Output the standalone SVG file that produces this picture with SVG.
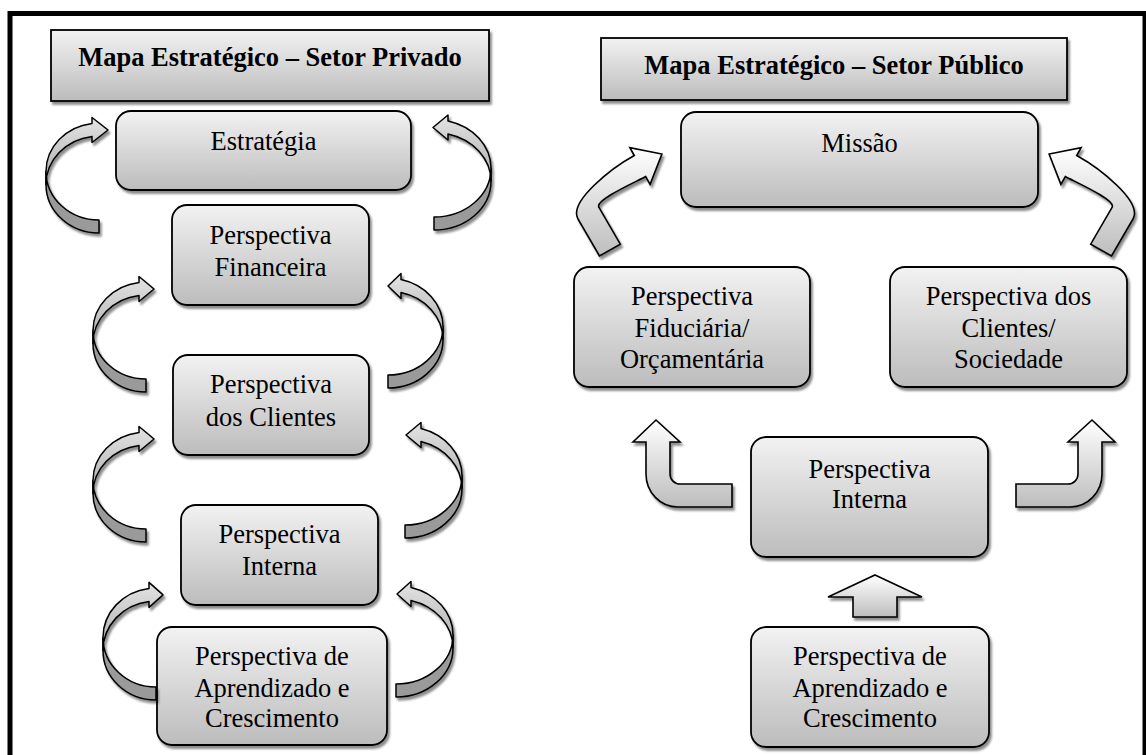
<svg xmlns="http://www.w3.org/2000/svg" width="1146" height="755" viewBox="0 0 1146 755">
<defs>
<linearGradient id="gBox" x1="0" y1="0" x2="0" y2="1"><stop offset="0" stop-color="#f2f2f2"/><stop offset="1" stop-color="#bcbcbc"/></linearGradient>
<linearGradient id="gArr" x1="0" y1="0" x2="0" y2="1"><stop offset="0" stop-color="#ffffff"/><stop offset="1" stop-color="#bdbdbd"/></linearGradient>
<linearGradient id="gFront" x1="0" y1="0" x2="0" y2="1"><stop offset="0" stop-color="#e4e4e4"/><stop offset="1" stop-color="#acacac"/></linearGradient>
<filter id="sh" x="-15%" y="-15%" width="140%" height="140%">
<feGaussianBlur in="SourceAlpha" stdDeviation="1"/>
<feOffset dx="2" dy="3"/>
<feComponentTransfer><feFuncA type="linear" slope="0.45"/></feComponentTransfer>
<feMerge><feMergeNode/><feMergeNode in="SourceGraphic"/></feMerge>
</filter>
</defs>
<style>
.box{fill:url(#gBox);stroke:#000;stroke-width:1.8}
.t{font-family:"Liberation Serif","Times New Roman",serif;font-size:26.5px;text-anchor:middle;fill:#000}
.tb{font-weight:bold}
.back{fill:#9a9a9a;stroke:#000;stroke-width:1.5;stroke-linejoin:round}
.front{fill:url(#gFront);stroke:#000;stroke-width:1.5;stroke-linejoin:round}
.blk{fill:url(#gArr);stroke:#000;stroke-width:1.6;stroke-linejoin:miter}
</style>
<rect x="10" y="13.5" width="1135" height="800" fill="none" stroke="#000" stroke-width="5"/>

<g id="title-privado">
<rect class="box" x="51" y="30" width="438" height="71" filter="url(#sh)"/>
<text class="t tb" x="270" y="66">Mapa Estratégico – Setor Privado</text>
</g>
<g id="title-publico">
<rect class="box" x="601" y="38" width="466" height="62" filter="url(#sh)"/>
<text class="t tb" x="834" y="74">Mapa Estratégico – Setor Público</text>
</g>

<g id="priv-estrategia">
<rect class="box" x="116" y="111" width="295" height="79" rx="15" filter="url(#sh)"/>
<text class="t" x="263.5" y="150">Estratégia</text>
</g>
<g id="priv-financeira">
<rect class="box" x="172" y="205" width="197" height="100" rx="15" filter="url(#sh)"/>
<text class="t" x="270.5" y="244">Perspectiva</text>
<text class="t" x="270.5" y="276">Financeira</text>
</g>
<g id="priv-clientes">
<rect class="box" x="173" y="355" width="196" height="100" rx="15" filter="url(#sh)"/>
<text class="t" x="271" y="393">Perspectiva</text>
<text class="t" x="271" y="426">dos Clientes</text>
</g>
<g id="priv-interna">
<rect class="box" x="181" y="505" width="197" height="100" rx="15" filter="url(#sh)"/>
<text class="t" x="279.5" y="543">Perspectiva</text>
<text class="t" x="279.5" y="575">Interna</text>
</g>
<g id="priv-aprendizado">
<rect class="box" x="157" y="627" width="230" height="118" rx="15" filter="url(#sh)"/>
<text class="t" x="272" y="665">Perspectiva de</text>
<text class="t" x="272" y="697">Aprendizado e</text>
<text class="t" x="272" y="727">Crescimento</text>
</g>

<g id="pub-missao">
<rect class="box" x="681" y="112" width="357" height="95" rx="15" filter="url(#sh)"/>
<text class="t" x="859.5" y="152">Missão</text>
</g>
<g id="pub-fiduciaria">
<rect class="box" x="574" y="267" width="236" height="120" rx="15" filter="url(#sh)"/>
<text class="t" x="692" y="305">Perspectiva</text>
<text class="t" x="692" y="337">Fiduciária/</text>
<text class="t" x="692" y="368">Orçamentária</text>
</g>
<g id="pub-sociedade">
<rect class="box" x="890" y="267" width="237" height="120" rx="15" filter="url(#sh)"/>
<text class="t" x="1008.5" y="305">Perspectiva dos</text>
<text class="t" x="1008.5" y="337">Clientes/</text>
<text class="t" x="1008.5" y="368">Sociedade</text>
</g>
<g id="pub-interna">
<rect class="box" x="751" y="437" width="237" height="120" rx="15" filter="url(#sh)"/>
<text class="t" x="869.5" y="478">Perspectiva</text>
<text class="t" x="869.5" y="508">Interna</text>
</g>
<g id="pub-aprendizado">
<rect class="box" x="751" y="627" width="238" height="120" rx="15" filter="url(#sh)"/>
<text class="t" x="870" y="665">Perspectiva de</text>
<text class="t" x="870" y="697">Aprendizado e</text>
<text class="t" x="870" y="727">Crescimento</text>
</g>

<g id="connectors">
<!-- private, left side curved arrows -->
<g filter="url(#sh)">
<path class="back" d="M 99,233 A 53 48.5 0 0 1 46,184.5 L 46,171.5 A 53 48.5 0 0 0 99,220 Z"/>
<path class="front" d="M 46,184.5 A 53 48.5 0 0 1 92,136.5 L 92,142.5 L 108,130 L 92,117.5 L 92,123.5 A 53 48.5 0 0 0 46,171.5 Z"/>
</g>
<g filter="url(#sh)">
<path class="back" d="M 146,392 A 53 48.5 0 0 1 93,343.5 L 93,330.5 A 53 48.5 0 0 0 146,379 Z"/>
<path class="front" d="M 93,343.5 A 53 48.5 0 0 1 139,295.5 L 139,301.5 L 154,289 L 139,276.5 L 139,282.5 A 53 48.5 0 0 0 93,330.5 Z"/>
</g>
<g filter="url(#sh)">
<path class="back" d="M 146,542 A 53 48.5 0 0 1 93,493.5 L 93,480.5 A 53 48.5 0 0 0 146,529 Z"/>
<path class="front" d="M 93,493.5 A 53 48.5 0 0 1 139,445.5 L 139,451.5 L 154,439 L 139,426.5 L 139,432.5 A 53 48.5 0 0 0 93,480.5 Z"/>
</g>
<g filter="url(#sh)">
<path class="back" d="M 156,700 A 53 49.5 0 0 1 103,650.5 L 103,637.5 A 53 49.5 0 0 0 156,687 Z"/>
<path class="front" d="M 103,650.5 A 53 49.5 0 0 1 149,601.4 L 149,607.4 L 163,594.9 L 149,582.4 L 149,588.4 A 53 49.5 0 0 0 103,637.5 Z"/>
</g>
<!-- private, right side curved arrows (mirrored) -->
<g filter="url(#sh)"><g transform="matrix(-1 0 0 1 868 0)">
<path class="back" d="M 434,230 A 57 48.75 0 0 1 377,181.25 L 377,168.25 A 57 48.75 0 0 0 434,217 Z"/>
<path class="front" d="M 377,181.25 A 57 48.75 0 0 1 420,134 L 420,140 L 435,127.5 L 420,115 L 420,121 A 57 48.75 0 0 0 377,168.25 Z"/>
</g></g>
<g filter="url(#sh)"><g transform="matrix(-1 0 0 1 776 0)">
<path class="back" d="M 388,388 A 55 48.4 0 0 1 333,339.6 L 333,326.6 A 55 48.4 0 0 0 388,375 Z"/>
<path class="front" d="M 333,339.6 A 55 48.4 0 0 1 375,292.5 L 375,298.5 L 388,286 L 375,273.5 L 375,279.5 A 55 48.4 0 0 0 333,326.6 Z"/>
</g></g>
<g filter="url(#sh)"><g transform="matrix(-1 0 0 1 810 0)">
<path class="back" d="M 405,538 A 57 49.25 0 0 1 348,488.75 L 348,475.75 A 57 49.25 0 0 0 405,525 Z"/>
<path class="front" d="M 348,488.75 A 57 49.25 0 0 1 389,441.5 L 389,447.5 L 404,435 L 389,422.5 L 389,428.5 A 57 49.25 0 0 0 348,475.75 Z"/>
</g></g>
<g filter="url(#sh)"><g transform="matrix(-1 0 0 1 792 0)">
<path class="back" d="M 396,697 A 57 49.1 0 0 1 339,647.9 L 339,634.9 A 57 49.1 0 0 0 396,684 Z"/>
<path class="front" d="M 339,647.9 A 57 49.1 0 0 1 381,600.5 L 381,606.5 L 395,594 L 381,581.5 L 381,587.5 A 57 49.1 0 0 0 339,634.9 Z"/>
</g></g>

<!-- public: curved up arrows to Missão -->
<g filter="url(#sh)">
<path class="blk" d="M 599.5,256 L 578,219 C 568,201.7 612.4,167.5 634.3,155.5 L 629.9,147.6 L 661.9,154 L 650.1,184.4 L 645.7,176.5 C 635.2,182.2 594.8,200.2 598.8,207.1 L 620.3,244.1 Z"/>
</g>
<g filter="url(#sh)"><g transform="matrix(-1 0 0 1 1711 0)">
<path class="blk" d="M 599.5,256 L 578,219 C 568,201.7 612.4,167.5 634.3,155.5 L 629.9,147.6 L 661.9,154 L 650.1,184.4 L 645.7,176.5 C 635.2,182.2 594.8,200.2 598.8,207.1 L 620.3,244.1 Z"/>
</g></g>
<!-- public: elbow arrows from Interna -->
<g filter="url(#sh)">
<path class="blk" d="M 656,420 L 680,442 L 670,442 L 670,474 A 10 10 0 0 0 680,484 L 732,484 L 732,507 L 678,507 A 32 33 0 0 1 646,474 L 646,442 L 633,442 Z"/>
</g>
<g filter="url(#sh)"><g transform="matrix(-1 0 0 1 1748 0)">
<path class="blk" d="M 656,420 L 680,442 L 670,442 L 670,474 A 10 10 0 0 0 680,484 L 732,484 L 732,507 L 678,507 A 32 33 0 0 1 646,474 L 646,442 L 633,442 Z"/>
</g></g>
<!-- public: up arrow from Aprendizado -->
<g filter="url(#sh)">
<path class="blk" d="M 875,575 L 922,597 L 897,597 L 897,617 L 853,617 L 853,597 L 828,597 Z"/>
</g>
</g>
</svg>
